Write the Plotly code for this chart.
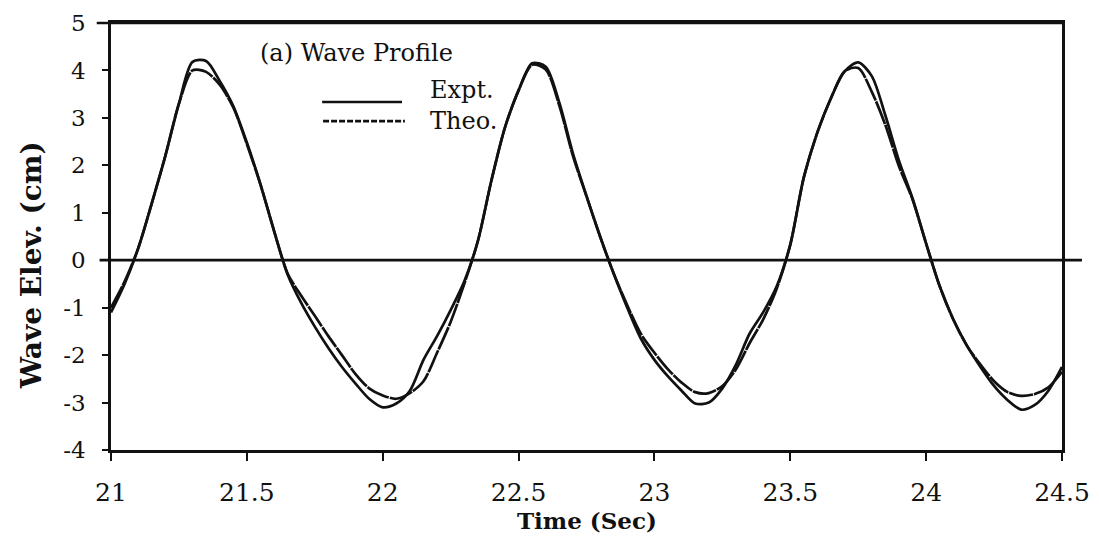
import plotly.graph_objects as go

# ---- data ----
time_sec = [21.00, 21.05, 21.10, 21.15, 21.20, 21.25, 21.30, 21.35, 21.40, 21.45,
            21.50, 21.55, 21.60, 21.65, 21.70, 21.75, 21.80, 21.85, 21.90, 21.95,
            22.00, 22.05, 22.10, 22.15, 22.20, 22.25, 22.30, 22.35, 22.40, 22.45,
            22.50, 22.55, 22.60, 22.65, 22.70, 22.75, 22.80, 22.85, 22.90, 22.95,
            23.00, 23.05, 23.10, 23.15, 23.20, 23.25, 23.30, 23.35, 23.40, 23.45,
            23.50, 23.55, 23.60, 23.65, 23.70, 23.75, 23.80, 23.85, 23.90, 23.95,
            24.00, 24.05, 24.10, 24.15, 24.20, 24.25, 24.30, 24.35, 24.40, 24.45,
            24.50]

expt = [-1.10, -0.50, 0.25, 1.20, 2.20, 3.30, 4.18, 4.20, 3.78, 3.25,
        2.48, 1.60, 0.62, -0.30, -0.90, -1.40, -1.85, -2.25, -2.60, -2.92,
        -3.10, -3.02, -2.75, -2.10, -1.60, -1.05, -0.45, 0.40, 1.68, 2.80,
        3.58, 4.15, 4.08, 3.32, 2.25, 1.35, 0.50, -0.28, -1.00, -1.65,
        -2.10, -2.45, -2.75, -3.02, -3.00, -2.70, -2.20, -1.55, -1.10, -0.55,
        0.33, 1.75, 2.70, 3.42, 3.98, 4.17, 3.88, 3.05, 2.10, 1.30,
        0.35, -0.55, -1.25, -1.80, -2.25, -2.65, -2.95, -3.15, -3.05, -2.75,
        -2.25]

theo = [-1.00, -0.45, 0.25, 1.20, 2.20, 3.30, 4.00, 3.97, 3.70, 3.22,
        2.45, 1.60, 0.62, -0.28, -0.75, -1.17, -1.60, -2.00, -2.40, -2.70,
        -2.85, -2.92, -2.80, -2.55, -1.95, -1.30, -0.50, 0.40, 1.68, 2.80,
        3.58, 4.12, 4.02, 3.26, 2.20, 1.35, 0.50, -0.28, -0.95, -1.55,
        -1.95, -2.30, -2.58, -2.78, -2.80, -2.65, -2.30, -1.75, -1.25, -0.60,
        0.33, 1.75, 2.70, 3.42, 3.98, 4.05, 3.55, 2.85, 1.98, 1.28,
        0.35, -0.55, -1.25, -1.80, -2.20, -2.55, -2.78, -2.86, -2.82, -2.68,
        -2.35]

x_ticks = [21, 21.5, 22, 22.5, 23, 23.5, 24, 24.5]
x_tick_text = ["21", "21.5", "22", "22.5", "23", "23.5", "24", "24.5"]
y_ticks = [-4, -3, -2, -1, 0, 1, 2, 3, 4, 5]
y_tick_text = ["-4", "-3", "-2", "-1", "0", "1", "2", "3", "4", "5"]

INK = "#111111"
FONT = "DejaVu Serif"

fig = go.Figure()
fig.add_trace(go.Scatter(x=time_sec, y=expt, name="Expt.", mode="lines",
                         line=dict(color=INK, width=2.7, shape="spline", smoothing=0.8),
                         showlegend=False))
fig.add_trace(go.Scatter(x=time_sec, y=theo, name="Theo.", mode="lines",
                         line=dict(color=INK, width=2.7, shape="spline", smoothing=0.8,
                                   dash="24px,1px"),
                         showlegend=False))

axis_common = dict(showgrid=False, zeroline=False, color=INK, automargin=False)

# page body has an 8px default margin, so the figure is sized/placed to compensate
fig.update_layout(
    width=1091, height=532,
    margin=dict(l=103, r=37, t=15, b=90, autoexpand=False),
    paper_bgcolor="white", plot_bgcolor="white",
    font=dict(family=FONT, color=INK),
    xaxis=dict(range=[21, 24.5], tickvals=x_ticks, ticktext=x_tick_text,
               ticks="outside", ticklen=8, tickwidth=2, tickcolor=INK,
               showline=True, linewidth=2.7, linecolor=INK, mirror=True,
               tickfont=dict(family=FONT, size=25, color=INK),
               ticklabelstandoff=10, **axis_common),
    yaxis=dict(range=[-4, 5], tickvals=y_ticks, ticktext=y_tick_text,
               ticks="outside", ticklen=6, tickwidth=2, tickcolor=INK,
               showline=True, linewidth=2.7, linecolor=INK, mirror=True,
               tickfont=dict(family=FONT, size=23, color=INK),
               ticklabelstandoff=12, **axis_common),
    xaxis2=dict(range=[21, 24.5], overlaying="x", anchor="y", side="bottom",
                tickvals=x_ticks, ticks="inside", ticklen=8, tickwidth=2,
                tickcolor=INK, showticklabels=False, showline=False, **axis_common),
    yaxis2=dict(range=[-4, 5], overlaying="y", anchor="x", side="left",
                tickvals=y_ticks, ticks="inside", ticklen=6, tickwidth=2,
                tickcolor=INK, showticklabels=False, showline=False, **axis_common),
    showlegend=False,
)

shapes = [
    # zero line, slightly overshooting the frame
    dict(type="line", xref="paper", yref="y", x0=-0.012, x1=1.021, y0=0, y1=0,
         line=dict(color=INK, width=2.7)),
    # top frame line extending a little to the left
    dict(type="line", xref="paper", yref="paper", x0=-0.015, x1=1.0, y0=1, y1=1,
         line=dict(color=INK, width=2.7)),
    # legend samples
    dict(type="line", xref="paper", yref="paper", x0=0.222, x1=0.306, y0=0.815, y1=0.815,
         line=dict(color=INK, width=2.7)),
    dict(type="line", xref="paper", yref="paper", x0=0.223, x1=0.309, y0=0.770, y1=0.770,
         line=dict(color=INK, width=2.7, dash="6px,2px")),
]
fig.update_layout(shapes=shapes)

annotations = [
    dict(text="(a) Wave Profile", xref="paper", yref="paper", x=0.155, y=0.930,
         xanchor="left", yanchor="middle", showarrow=False,
         font=dict(family=FONT, size=24, color=INK)),
    dict(text="Expt.", xref="paper", yref="paper", x=0.333, y=0.843,
         xanchor="left", yanchor="middle", showarrow=False,
         font=dict(family=FONT, size=24, color=INK)),
    dict(text="Theo.", xref="paper", yref="paper", x=0.333, y=0.770,
         xanchor="left", yanchor="middle", showarrow=False,
         font=dict(family=FONT, size=24, color=INK)),
    dict(text="<b>Time (Sec)</b>", xref="paper", yref="paper", x=0.5, y=-0.164,
         xanchor="center", yanchor="middle", showarrow=False,
         font=dict(family=FONT, size=23, color=INK)),
    dict(text="<b>Wave Elev. (cm)</b>", xref="paper", yref="paper", x=-0.084, y=0.433,
         xanchor="center", yanchor="middle", textangle=-90, showarrow=False,
         font=dict(family=FONT, size=28, color=INK)),
]
fig.update_layout(annotations=annotations)

fig.write_html("out.html")
